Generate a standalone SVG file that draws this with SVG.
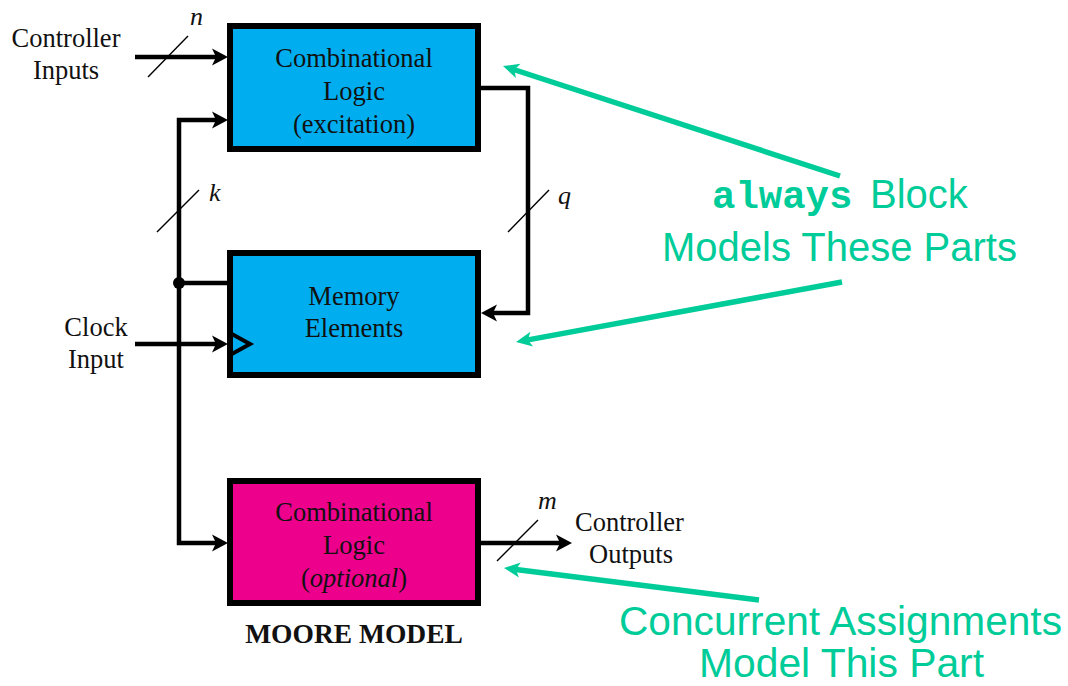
<svg xmlns="http://www.w3.org/2000/svg" width="1068" height="686" viewBox="0 0 1068 686">
  <defs>
    <style>
      .blk { stroke: #000; stroke-width: 6; }
      .logic { fill: #00AEEF; }
      .out { fill: #EC008C; }
      .wire { fill: none; stroke: #000; stroke-width: 4.5; stroke-linejoin: miter; }
      .slash { fill: none; stroke: #000; stroke-width: 1.4; }
      .lbl { font-family: "Liberation Serif", "Times New Roman", serif; font-size: 26.5px; fill: #111; }
      .mid { text-anchor: middle; }
      .var { font-family: "Liberation Serif", "Times New Roman", serif; font-size: 26px; font-style: italic; fill: #111; }
      .title { font-family: "Liberation Serif", "Times New Roman", serif; font-size: 27.5px; font-weight: bold; fill: #111; }
      .note { font-family: "Liberation Sans", Arial, sans-serif; font-size: 40px; fill: #00CC99; }
      .code { font-family: "Liberation Mono", "Courier New", monospace; font-weight: bold; font-size: 39px; fill: #00CC99; }
      .callout { fill: none; stroke: #00CC99; stroke-width: 5.5; }
    </style>
    <marker id="arrow" markerUnits="userSpaceOnUse" viewBox="-8 -10 20 20" refX="0" refY="0" markerWidth="20" markerHeight="20" orient="auto">
      <path d="M10,0 L-6,-8.5 L-2,0 L-6,8.5 Z" fill="#000"/>
    </marker>
    <marker id="garrow" markerUnits="userSpaceOnUse" viewBox="-10 -10 20 20" refX="0" refY="0" markerWidth="20" markerHeight="20" orient="auto">
      <path d="M8,0 L-8,-7.5 L-4,0 L-8,7.5 Z" fill="#00CC99"/>
    </marker>
  </defs>

  <rect width="1068" height="686" fill="#fff"/>

  <!-- wiring between the blocks -->
  <g id="connectors">
    <path class="wire" d="M135,57 H218" marker-end="url(#arrow)"/>
    <path class="wire" d="M179,330 V120 H218" marker-end="url(#arrow)"/>
    <path class="wire" d="M179,330 V543 H218" marker-end="url(#arrow)"/>
    <path class="wire" d="M179,283 H228"/>
    <circle cx="179" cy="283" r="6" fill="#000"/>
    <path class="wire" d="M135,344 H218" marker-end="url(#arrow)"/>
    <path class="wire" d="M481,88 H528 V313 H491" marker-end="url(#arrow)"/>
    <path class="wire" d="M481,543 H562" marker-end="url(#arrow)"/>

    <!-- bus width slashes -->
    <line class="slash" x1="148" y1="77" x2="188" y2="36"/>
    <line class="slash" x1="157" y1="232" x2="199" y2="190"/>
    <line class="slash" x1="508" y1="232" x2="549" y2="190"/>
    <line class="slash" x1="497" y1="561" x2="538" y2="520"/>
    <text class="var" x="190" y="25">n</text>
    <text class="var" x="209" y="201">k</text>
    <text class="var" x="558" y="204">q</text>
    <text class="var" x="538" y="509">m</text>
  </g>

  <!-- port labels -->
  <g id="io-labels">
    <text class="lbl mid" x="66" y="47">Controller</text>
    <text class="lbl mid" x="66" y="79">Inputs</text>
    <text class="lbl mid" x="96" y="336">Clock</text>
    <text class="lbl mid" x="96" y="368">Input</text>
    <text class="lbl" x="575" y="531">Controller</text>
    <text class="lbl mid" x="631" y="563">Outputs</text>
  </g>

  <g id="next-state-logic">
    <rect class="blk logic" x="230" y="26" width="248" height="123"/>
    <text class="lbl mid" x="354" y="67">Combinational</text>
    <text class="lbl mid" x="354" y="100">Logic</text>
    <text class="lbl mid" x="354" y="133">(excitation)</text>
  </g>

  <g id="memory">
    <rect class="blk logic" x="230" y="253" width="248" height="122"/>
    <polyline points="230,333 250,344 230,355" fill="none" stroke="#000" stroke-width="4"/>
    <text class="lbl mid" x="354" y="305">Memory</text>
    <text class="lbl mid" x="354" y="337">Elements</text>
  </g>

  <g id="output-logic">
    <rect class="blk out" x="230" y="481" width="248" height="122"/>
    <text class="lbl mid" x="354" y="521">Combinational</text>
    <text class="lbl mid" x="354" y="554">Logic</text>
    <text class="lbl mid" x="354" y="587">(<tspan font-style="italic">optional</tspan>)</text>
  </g>

  <text id="caption" class="title mid" x="354" y="643">MOORE MODEL</text>

  <!-- annotations -->
  <g id="always-note">
    <line class="callout" x1="840" y1="176" x2="510.6" y2="68.5" marker-end="url(#garrow)"/>
    <line class="callout" x1="842" y1="282" x2="523.9" y2="340.6" marker-end="url(#garrow)"/>
    <text x="712" y="208"><tspan class="code">always</tspan><tspan class="note" x="870">Block</tspan></text>
    <text class="note" x="662" y="261">Models These Parts</text>
  </g>

  <g id="concurrent-note">
    <line class="callout" x1="759" y1="600" x2="511.9" y2="569" marker-end="url(#garrow)"/>
    <text class="note" x="619" y="635" textLength="443" lengthAdjust="spacingAndGlyphs">Concurrent Assignments</text>
    <text class="note" x="699" y="677" textLength="285" lengthAdjust="spacingAndGlyphs">Model This Part</text>
  </g>
</svg>
